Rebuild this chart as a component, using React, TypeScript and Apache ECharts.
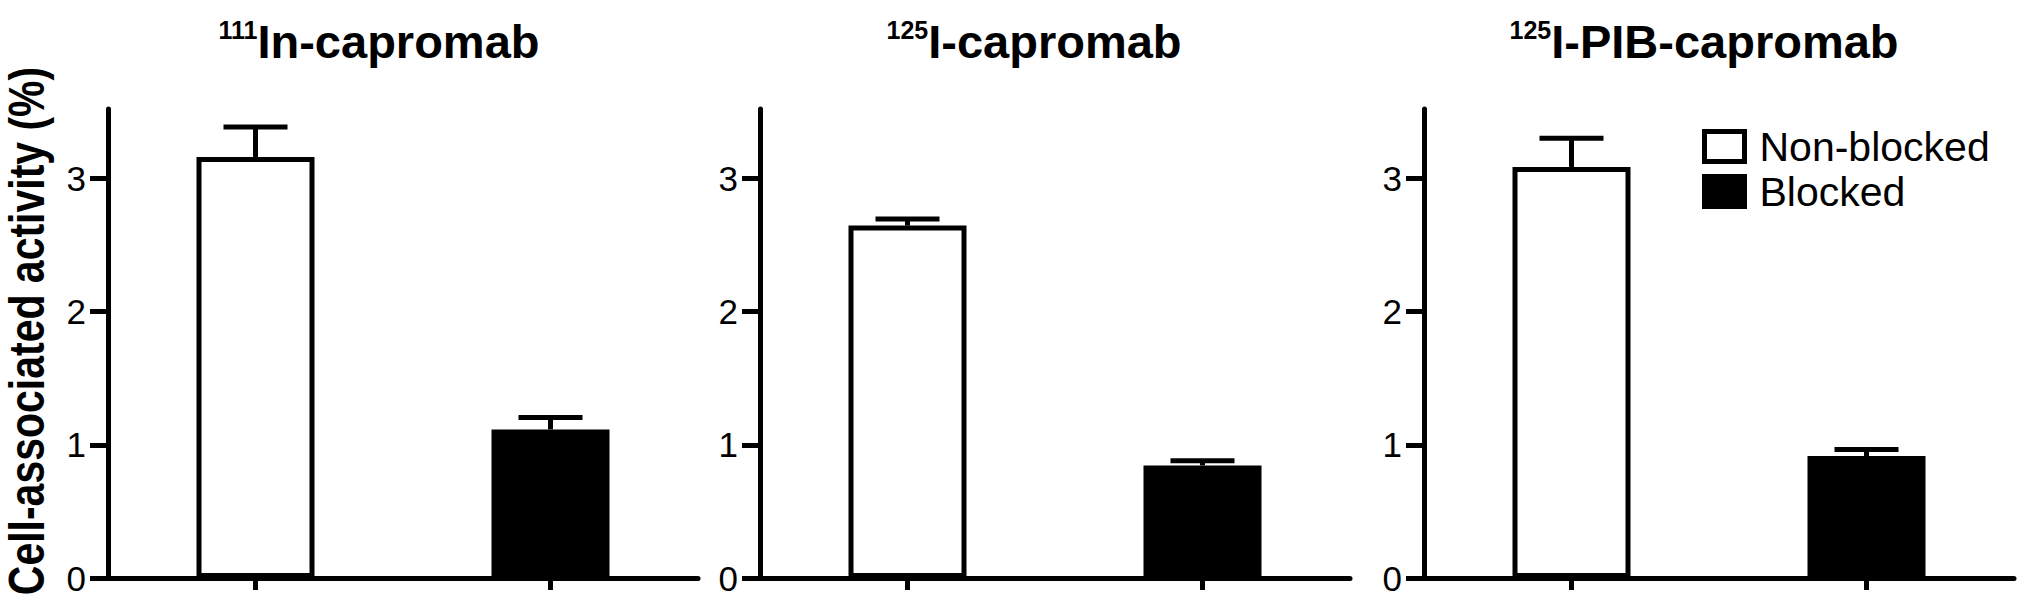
import React, { useEffect, useRef } from "react";
import * as echarts from "echarts";

// ---- data ----
const categories = ["Non-blocked", "Blocked"];
const titleSup = ["111", "125", "125"];
const titleMain = ["In-capromab", "I-capromab", "I-PIB-capromab"];
const nonBlockedMean = [3.16, 2.645, 3.085];
const nonBlockedUpper = [3.385, 2.695, 3.3];
const blockedMean = [1.115, 0.845, 0.915];
const blockedUpper = [1.205, 0.88, 0.965];
const yTickValues = [0, 1, 2, 3];
const yMax = 3.52;
const yAxisTitle = "Cell-associated activity (%)";

// ---- layout ----
const FONT = "'Liberation Sans', Arial, Helvetica, sans-serif";
const gridLefts = [108, 760, 1424];
const gridWidth = 590;
const gridTop = 109;
const gridHeight = 469;
const titleCenters = [379, 1034, 1704];

export default function App() {
  const ref = useRef<HTMLDivElement | null>(null);

  useEffect(() => {
    if (!ref.current) return;
    const chart = echarts.init(ref.current, null, { renderer: "svg" });

    const grids = gridLefts.map((l) => ({
      left: l,
      top: gridTop,
      width: gridWidth,
      height: gridHeight,
      containLabel: false,
    }));

    const xAxes = gridLefts.map((_, i) => ({
      type: "category",
      gridIndex: i,
      data: categories,
      boundaryGap: true,
      axisLine: { show: true, lineStyle: { color: "#000", width: 5 } },
      axisTick: { show: true, alignWithLabel: true, length: 12, lineStyle: { color: "#000", width: 5 } },
      axisLabel: { show: false },
      splitLine: { show: false },
    }));

    const yAxes = gridLefts.map((_, i) => ({
      type: "value",
      gridIndex: i,
      min: 0,
      max: yMax,
      interval: 1,
      axisLine: { show: true, lineStyle: { color: "#000", width: 5 } },
      axisTick: {
        show: true,
        length: 18,
        lineStyle: { color: "#000", width: 5 },
        customValues: yTickValues,
      },
      axisLabel: {
        show: true,
        margin: 22,
        color: "#000",
        fontSize: 35,
        fontFamily: FONT,
        customValues: yTickValues,
        formatter: (v: number) => String(v),
      },
      splitLine: { show: false },
    }));

    const series: any[] = [];
    gridLefts.forEach((_, i) => {
      series.push({
        name: categories[0],
        type: "bar",
        xAxisIndex: i,
        yAxisIndex: i,
        barWidth: 118,
        barGap: "-100%",
        data: [nonBlockedMean[i], "-"],
        itemStyle: { color: "#fff", borderColor: "#000", borderWidth: 5 },
      });
      series.push({
        name: categories[1],
        type: "bar",
        xAxisIndex: i,
        yAxisIndex: i,
        barWidth: 118,
        barGap: "-100%",
        data: ["-", blockedMean[i]],
        itemStyle: { color: "#000", borderColor: "#000", borderWidth: 5 },
      });
      series.push({
        type: "custom",
        xAxisIndex: i,
        yAxisIndex: i,
        z: 5,
        data: [
          [0, nonBlockedMean[i], nonBlockedUpper[i]],
          [1, blockedMean[i], blockedUpper[i]],
        ],
        encode: { x: 0, y: [1, 2] },
        renderItem: (params: any, api: any) => {
          const x = api.value(0);
          const m = api.value(1);
          const e = api.value(2);
          const pTop = api.coord([x, e]);
          const pBar = api.coord([x, m]);
          return {
            type: "group",
            children: [
              {
                type: "line",
                shape: { x1: pTop[0], y1: pTop[1], x2: pBar[0], y2: pBar[1] },
                style: { stroke: "#000", lineWidth: 5 },
              },
              {
                type: "line",
                shape: { x1: pTop[0] - 32, y1: pTop[1], x2: pTop[0] + 32, y2: pTop[1] },
                style: { stroke: "#000", lineWidth: 5 },
              },
            ],
          };
        },
      });
    });

    const titles = titleCenters.map((c, i) => ({
      text: `{sup|${titleSup[i]}}{main|${titleMain[i]}}`,
      left: c,
      top: 17,
      textAlign: "center",
      padding: 0,
      textStyle: {
        rich: {
          sup: { fontSize: 25, fontWeight: "bold", fontFamily: FONT, color: "#000", verticalAlign: "top", lineHeight: 48 },
          main: { fontSize: 47, fontWeight: "bold", fontFamily: FONT, color: "#000", lineHeight: 48 },
        },
      },
    }));

    chart.setOption({
      animation: false,
      backgroundColor: "#fff",
      title: titles,
      grid: grids,
      xAxis: xAxes,
      yAxis: yAxes,
      legend: {
        data: categories,
        orient: "vertical",
        left: 1702,
        top: 126,
        itemWidth: 40,
        itemHeight: 30,
        itemGap: 4,
        icon: "rect",
        padding: 0,
        itemStyle: { borderColor: "#000", borderWidth: 5 },
        textStyle: { fontSize: 41, fontFamily: FONT, color: "#000", lineHeight: 30, padding: [0, 0, 0, 10] },
        selectedMode: false,
      },
      graphic: [
        {
          type: "text",
          x: 27,
          y: 331,
          rotation: Math.PI / 2,
          scaleY: 1.2,
          style: {
            text: yAxisTitle,
            font: `bold 41px ${FONT}`,
            fill: "#000",
            align: "center",
            verticalAlign: "middle",
          },
        },
      ],
      series,
    });

    return () => chart.dispose();
  }, []);

  return (
    <div
      ref={ref}
      style={{ position: "absolute", left: 0, top: 0, width: 2031, height: 608, background: "#fff" }}
    />
  );
}
